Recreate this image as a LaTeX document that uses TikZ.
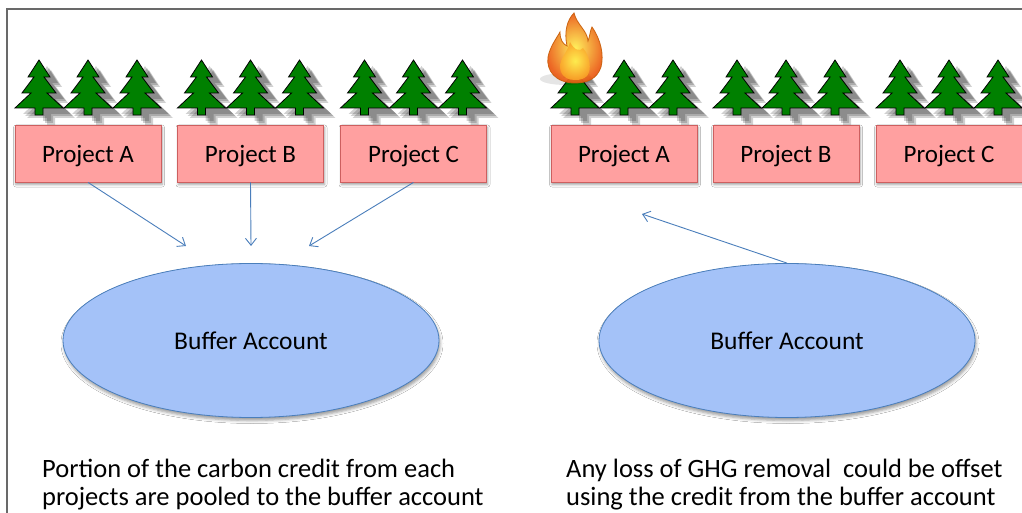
\documentclass[tikz,border=0pt]{standalone}
\usepackage{fontspec}
\setmainfont{Carlito}
\usetikzlibrary{shapes.geometric,arrows.meta,shadows.blur}

\definecolor{boxfill}{RGB}{255,160,160}
\definecolor{boxline}{RGB}{205,95,95}
\definecolor{buffill}{RGB}{164,194,248}
\definecolor{bufline}{RGB}{74,126,187}
\definecolor{arrowblue}{RGB}{74,126,187}
\definecolor{pinegreen}{RGB}{0,128,0}
\definecolor{framegray}{RGB}{105,105,105}
\definecolor{flameline}{RGB}{200,95,10}
\definecolor{flameouter}{RGB}{235,90,20}
\definecolor{flamemid}{RGB}{250,160,40}
\definecolor{flamecore}{RGB}{255,240,80}

\tikzset{
  project/.style={rectangle, draw=boxline, line width=0.8bp, fill=boxfill,
    minimum width=146bp, minimum height=57bp, inner sep=0pt,
    text height=17.5bp, text depth=0bp,
    font=\fontsize{25bp}{30bp}\selectfont,
    blur shadow={shadow xshift=1bp, shadow yshift=-2.5bp,
                 shadow blur radius=2.5bp, shadow opacity=40}},
  buffer/.style={ellipse, draw=bufline, line width=0.8bp, fill=buffill,
    minimum width=376bp, minimum height=154bp, inner sep=0pt,
    font=\fontsize{25.5bp}{30bp}\selectfont,
    blur shadow={shadow xshift=1bp, shadow yshift=-3bp,
                 shadow blur radius=3bp, shadow opacity=40}},
  flow/.style={draw=arrowblue, line width=0.9bp,
    -{Straight Barb[length=7bp,width=11bp]}},
  caption/.style={anchor=base west, align=left, inner sep=0pt,
    font=\fontsize{26.5bp}{27.5bp}\selectfont},
  pine outline/.style={insert path={(0,0) -- (11,17) -- (5,17) -- (17,33)
    -- (8,33) -- (24,48) -- (4,48) -- (4,55) -- (-4,55) -- (-4,48)
    -- (-24,48) -- (-8,33) -- (-17,33) -- (-5,17) -- (-11,17) -- cycle}},
  pics/pine/.style={code={
    % soft grey cast shadow, then the tree itself
    \fill[black, opacity=0.18, shift={(8,6)}, pine outline];
    \fill[black, opacity=0.18, shift={(10,8)}, pine outline];
    \fill[black, opacity=0.18, shift={(12,10)}, pine outline];
    \draw[fill=pinegreen, line width=0.8bp, line join=miter, pine outline];
  }},
  pics/grove/.style={code={
    \pic at (-49,0) {pine};
    \pic at (0,0) {pine};
    \pic at (49,0) {pine};
  }},
}

\begin{document}
\begin{tikzpicture}[x=1bp, y=-1bp]
  \useasboundingbox (0,0) rectangle (1022,513);
  \fill[white] (0,0) rectangle (1022,513);

  % frame
  \draw[framegray, line width=1.5bp] (7,513) -- (7,9) -- (1022,9);

  % trees above the projects
  \foreach \cx in {88,250.5,413.5,624,786,949}
    \pic at (\cx,60) {grove};

  % fire on the first tree of the right-hand group
  \begin{scope}[opacity=0.93]
    \fill[black, opacity=0.10] (566,79) ellipse (26 and 6);
    \path[draw=flameline, line width=0.8bp, shading=radial,
          inner color=flamecore, outer color=flameouter]
      (575,83) .. controls (556,83) and (546,71) .. (548,57)
      .. controls (550,47) and (556,39) .. (560,32)
      .. controls (560,40) and (563,44) .. (567,46)
      .. controls (564,32) and (567,20) .. (574,13)
      .. controls (577,25) and (587,30) .. (588,41)
      .. controls (590,36) and (590,31) .. (592,27)
      .. controls (601,40) and (604,55) .. (601,67)
      .. controls (597,79) and (587,83) .. (575,83) -- cycle;
    \path[shading=radial, inner color=flamecore, outer color=flamemid]
      (575,80) .. controls (562,80) and (558,70) .. (561,61)
      .. controls (564,54) and (568,50) .. (570,42)
      .. controls (574,50) and (580,52) .. (583,48)
      .. controls (590,56) and (592,70) .. (587,76)
      .. controls (584,79) and (580,80) .. (575,80) -- cycle;
  \end{scope}

  % projects
  \node[project] (lA) at (88,153.5)    {Project A};
  \node[project] (lB) at (250.5,153.5) {Project B};
  \node[project] (lC) at (413.5,153.5) {Project C};
  \node[project] (rA) at (624,153.5)   {Project A};
  \node[project] (rB) at (786,153.5)   {Project B};
  \node[project] (rC) at (949,153.5)   {Project C};

  % buffer accounts
  \node[buffer] (lbuf) at (251,340.5) {Buffer Account};
  \node[buffer] (rbuf) at (787,340.5) {Buffer Account};

  % arrow ends
  \coordinate (tA) at (186,246);
  \coordinate (tB) at (251,246);
  \coordinate (tC) at (309,246);
  \coordinate (tR) at (642,214);

  \draw[flow] (lA.south) -- (tA);
  \draw[flow] (lB.south) -- (tB);
  \draw[flow] (lC.south) -- (tC);
  \draw[flow] (rbuf.north) -- (tR);

  % captions (base anchor sits on the last line)
  \node[caption] (capL) at (42,505)
    {Portion of the carbon credit from each\\projects are pooled to the buffer account};
  \node[caption] (capR) at (566,505)
    {Any loss of GHG removal\ \ could be offset\\using the credit from the buffer account};
\end{tikzpicture}
\end{document}
